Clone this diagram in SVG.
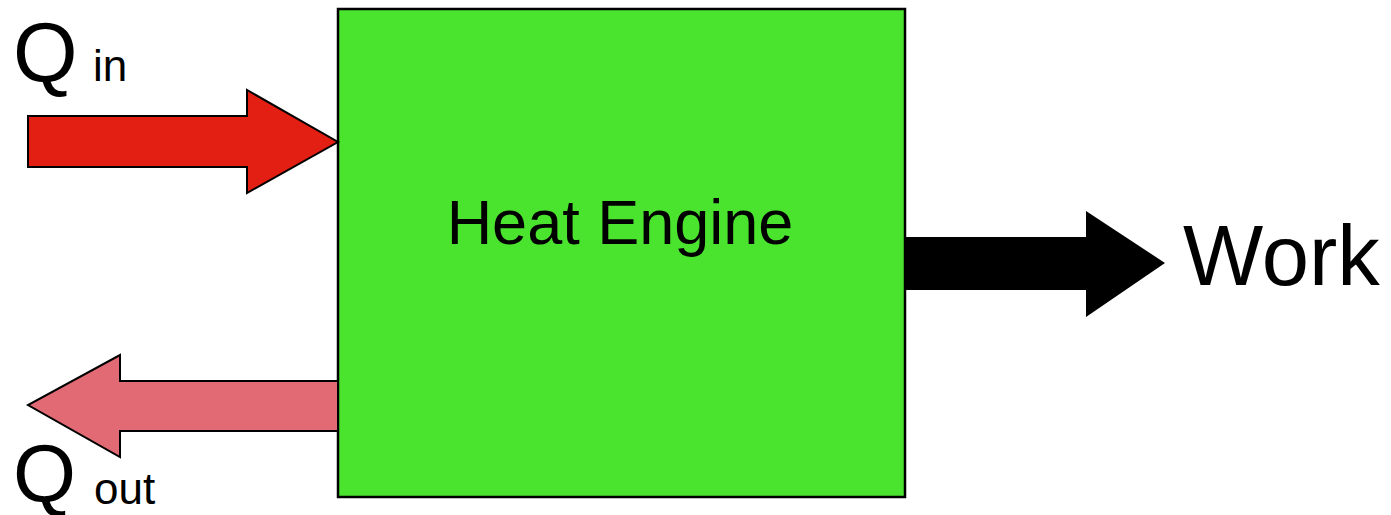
<svg xmlns="http://www.w3.org/2000/svg" width="1391" height="515" viewBox="0 0 1391 515">
<style>
  .lbl { font-family: "Liberation Sans", Arial, sans-serif; fill: #000; }
  .arrow { stroke: #000; stroke-width: 2; stroke-linejoin: miter; }
</style>
<rect width="1391" height="515" fill="#fff"/>
<g id="engine">
  <rect x="338" y="9" width="567" height="488" fill="#4AE42E" stroke="#000" stroke-width="2.5"/>
  <text class="lbl" x="620" y="244" font-size="63" text-anchor="middle">Heat Engine</text>
</g>
<g id="connectors">
  <polygon class="arrow" fill="#E31E12" points="28,116 247,116 247,90 338,142 247,193 247,167 28,167"/>
  <polygon class="arrow" fill="#E26A74" points="338,381 120,381 120,355 28,405 120,457 120,431 338,431"/>
  <polygon fill="#000" points="905,237 1086,237 1086,211 1165,263 1086,317 1086,290 905,290"/>
</g>
<g id="qin">
  <text class="lbl" x="13" y="81" font-size="83">Q</text>
  <text class="lbl" x="93" y="81" font-size="44">in</text>
</g>
<g id="qout">
  <text class="lbl" x="13" y="502" font-size="81">Q</text>
  <text class="lbl" x="94" y="504" font-size="44">out</text>
</g>
<g id="work">
  <text class="lbl" x="1183" y="285" font-size="85">Work</text>
</g>
</svg>
